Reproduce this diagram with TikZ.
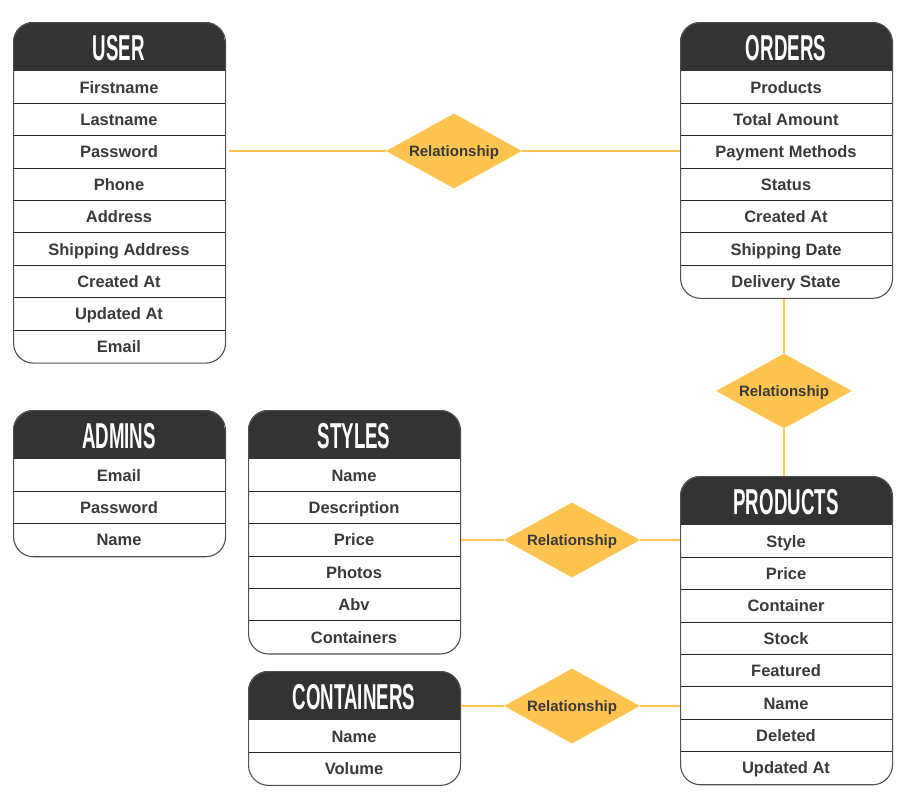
\documentclass[tikz,border=0pt]{standalone}
\usepackage{fontspec}
\setmainfont{Liberation Sans}
\usetikzlibrary{shapes.geometric}
\definecolor{hdrc}{HTML}{333333}
\definecolor{txtc}{HTML}{3A3A3A}
\definecolor{gold}{HTML}{FFC44F}
\definecolor{edgec}{HTML}{505050}
\tikzset{
  tblbox/.style={draw=edgec, line width=1.1pt, rounded corners=20pt, minimum width=212pt, inner sep=0pt},
  tblrow/.style={minimum width=212pt, minimum height=32.4pt, inner sep=0pt, text height=11.8pt, text depth=0pt, text=txtc, font=\fontsize{16.5}{18}\selectfont\bfseries},
  tbltitle/.style={text=white, inner sep=0pt, text height=26pt, text depth=0pt, font=\fontsize{36}{36}\selectfont\bfseries},
  rowsep/.style={draw=black!85, line width=0.9pt},
  rel/.style={diamond, fill=gold, aspect=1.81, minimum width=136pt, minimum height=75pt, inner sep=0pt, text height=10.7pt, text depth=0pt, text=txtc, font=\fontsize{15}{16}\selectfont\bfseries},
  link/.style={draw=gold, line width=2pt}
}
\newcommand\ertab[6]{%
  \pgfmathsetmacro\tabh{49+#5*32.4}
  \begin{scope}
    \clip[rounded corners=20pt] (#2,#3) rectangle ++(212,\tabh);
    \fill[hdrc] (#2,#3) rectangle ++(212,49);
  \end{scope}
  \node[tbltitle] (#1-title) at (#2+106,#3+25) {\scalebox{0.52}[1]{#4}};
  \foreach \r [count=\i] in {#6} {
    \node[tblrow] (#1-\i) at (#2+106,#3+49+\i*32.4-16.2) {\r};
    \ifnum\i>1 \draw[rowsep] (#1-\i.north west) -- (#1-\i.north east); \fi
  }
  \node[tblbox, minimum height=\tabh pt, anchor=north west] (#1) at (#2,#3) {};
}
\begin{document}
\begin{tikzpicture}[x=1pt,y=-1pt]
\useasboundingbox[fill=white] (0,0) rectangle (904,798);
\ertab{user}{13}{22}{USER}{9}{Firstname,Lastname,Password,Phone,Address,Shipping Address,Created At,Updated At,Email}
\ertab{orders}{680}{22}{ORDERS}{7}{Products,Total Amount,Payment Methods,Status,Created At,Shipping Date,Delivery State}
\ertab{admins}{13}{410}{ADMINS}{3}{Email,Password,Name}
\ertab{styles}{248}{410}{STYLES}{6}{Name,Description,Price,Photos,Abv,Containers}
\ertab{products}{680}{476}{PRODUCTS}{8}{Style,Price,Container,Stock,Featured,Name,Deleted,Updated At}
\ertab{containers}{248}{671}{CONTAINERS}{2}{Name,Volume}

\node[rel] (rel1) at (454,151) {Relationship};
\node[rel] (rel2) at (784,391) {Relationship};
\node[rel] (rel3) at (572,540) {Relationship};
\node[rel] (rel4) at (572,706) {Relationship};

\draw[link] ([xshift=3pt]rel1.west -| user.east) -- (rel1.west);
\draw[link] (rel1.east) -- (rel1.east -| orders.west);
\draw[link] (orders.south -| rel2.north) -- (rel2.north);
\draw[link] (rel2.south) -- (rel2.south |- products.north);
\draw[link] (rel3.west -| styles.east) -- (rel3.west);
\draw[link] (rel3.east) -- (rel3.east -| products.west);
\draw[link] (rel4.west -| containers.east) -- (rel4.west);
\draw[link] (rel4.east) -- (rel4.east -| products.west);
\end{tikzpicture}
\end{document}
